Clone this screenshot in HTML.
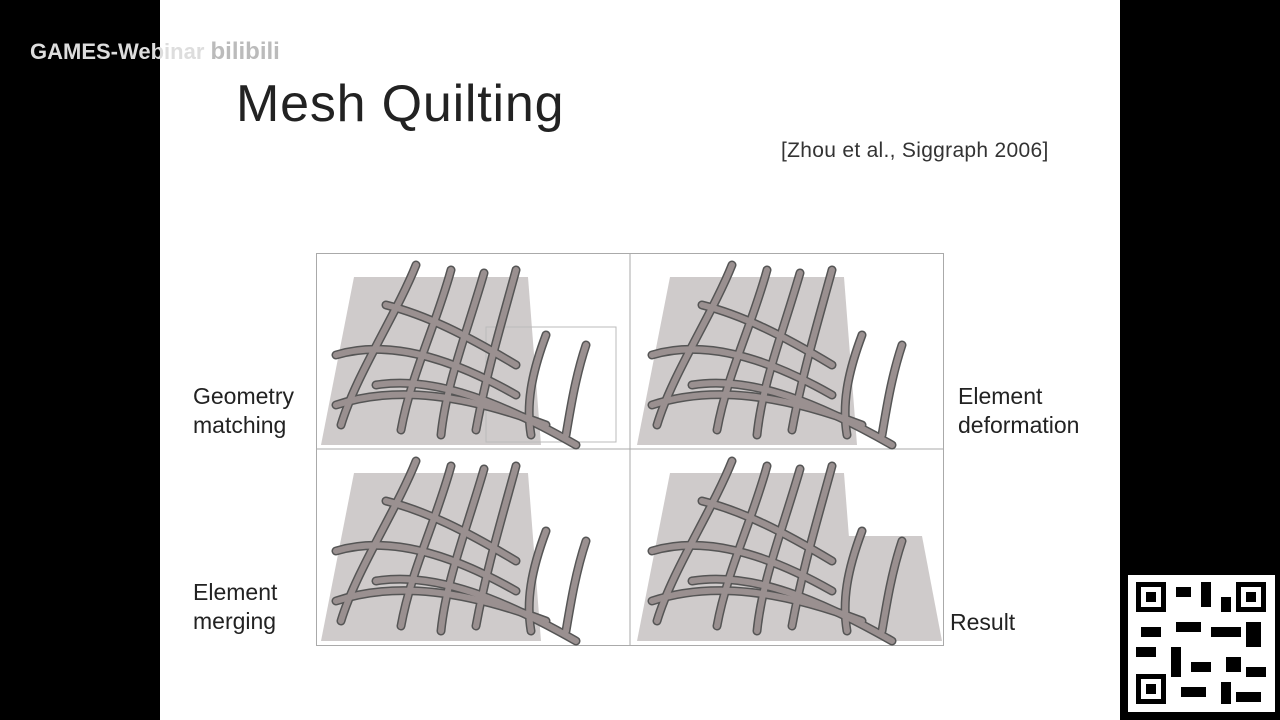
<!DOCTYPE html>
<html><head><meta charset="utf-8">
<style>
body{margin:0;width:1280px;height:720px;background:#000;overflow:hidden;font-family:"Liberation Sans",sans-serif;position:relative}
.slide{position:absolute;left:160px;top:0;width:960px;height:720px;background:#fff}
.t{position:absolute;white-space:nowrap;color:#222}
</style></head><body>
<div class="slide"></div>
<div class="t" style="left:30px;top:38px;font-size:22px;font-weight:bold;color:#ddd">GAMES-Webinar <span style="color:#bbb;font-size:24px">bilibili</span></div>
<div class="t" style="left:236px;top:74px;font-size:52px;letter-spacing:0.8px;color:#222">Mesh Quilting</div>
<div class="t" style="left:781px;top:139px;font-size:21px;letter-spacing:0.3px;color:#333">[Zhou et al., Siggraph 2006]</div>
<div class="t" style="left:193px;top:382px;font-size:23px;line-height:29px">Geometry<br>matching</div>
<div class="t" style="left:958px;top:382px;font-size:23px;line-height:29px">Element<br>deformation</div>
<div class="t" style="left:193px;top:578px;font-size:23px;line-height:29px">Element<br>merging</div>
<div class="t" style="left:950px;top:609px;font-size:23px">Result</div>
<svg style="position:absolute;left:316px;top:253px" width="628" height="393">
<defs>
<g id="tubes" fill="none" stroke-linecap="round">
<g stroke="#555" stroke-width="9">
<path d="M100 10 C80 60 40 120 25 170"/><path d="M135 15 C120 70 95 120 85 175"/><path d="M168 18 C150 80 130 130 125 180"/><path d="M200 15 C185 70 170 120 160 175"/>
<path d="M70 50 C110 60 150 80 200 110"/><path d="M20 100 C70 85 130 100 200 140"/><path d="M20 150 C80 130 150 140 230 170"/><path d="M60 130 C120 120 190 150 260 190"/>
<path d="M230 80 C215 120 210 150 215 180"/><path d="M270 90 C260 120 255 150 250 180"/>
</g>
<g stroke="#9a9090" stroke-width="6">
<path d="M100 10 C80 60 40 120 25 170"/><path d="M135 15 C120 70 95 120 85 175"/><path d="M168 18 C150 80 130 130 125 180"/><path d="M200 15 C185 70 170 120 160 175"/>
<path d="M70 50 C110 60 150 80 200 110"/><path d="M20 100 C70 85 130 100 200 140"/><path d="M20 150 C80 130 150 140 230 170"/><path d="M60 130 C120 120 190 150 260 190"/>
<path d="M230 80 C215 120 210 150 215 180"/><path d="M270 90 C260 120 255 150 250 180"/>
</g></g>
<polygon id="floor" points="38,22 212,22 225,190 5,190" fill="#cfcbcb"/>
</defs>
<rect x="0.5" y="0.5" width="627" height="392" fill="#fff" stroke="#aaa"/>
<line x1="314" y1="0" x2="314" y2="393" stroke="#aaa"/><line x1="0" y1="196" x2="628" y2="196" stroke="#aaa"/>
<g transform="translate(0,2)"><use href="#floor"/><rect x="170" y="72" width="130" height="115" fill="none" stroke="#bbb"/><use href="#tubes"/></g>
<g transform="translate(316,2)"><use href="#floor"/><use href="#tubes"/></g>
<g transform="translate(0,198)"><use href="#floor"/><use href="#tubes"/></g>
<g transform="translate(316,198)"><use href="#floor"/><polygon points="212,85 290,85 310,190 215,190" fill="#cfcbcb"/><use href="#tubes"/></g>
</svg>
<div style="position:absolute;left:1128px;top:575px;width:147px;height:137px;background:#fff"></div>
<svg style="position:absolute;left:1136px;top:582px" width="132" height="124">
<g fill="#000"><rect x="0" y="0" width="30" height="30"/><rect x="100" y="0" width="30" height="30"/><rect x="0" y="92" width="30" height="30"/></g>
<g fill="#fff"><rect x="5" y="5" width="20" height="20"/><rect x="105" y="5" width="20" height="20"/><rect x="5" y="97" width="20" height="20"/></g>
<g fill="#000"><rect x="10" y="10" width="10" height="10"/><rect x="110" y="10" width="10" height="10"/><rect x="10" y="102" width="10" height="10"/>
<rect x="40" y="5" width="15" height="10"/><rect x="65" y="0" width="10" height="25"/><rect x="85" y="15" width="10" height="15"/><rect x="40" y="40" width="25" height="10"/><rect x="75" y="45" width="30" height="10"/><rect x="5" y="45" width="20" height="10"/><rect x="110" y="40" width="15" height="25"/><rect x="35" y="65" width="10" height="30"/><rect x="55" y="80" width="20" height="10"/><rect x="90" y="75" width="15" height="15"/><rect x="110" y="85" width="20" height="10"/><rect x="45" y="105" width="25" height="10"/><rect x="85" y="100" width="10" height="22"/><rect x="100" y="110" width="25" height="10"/><rect x="0" y="65" width="20" height="10"/></g>
</svg>
</body></html>
